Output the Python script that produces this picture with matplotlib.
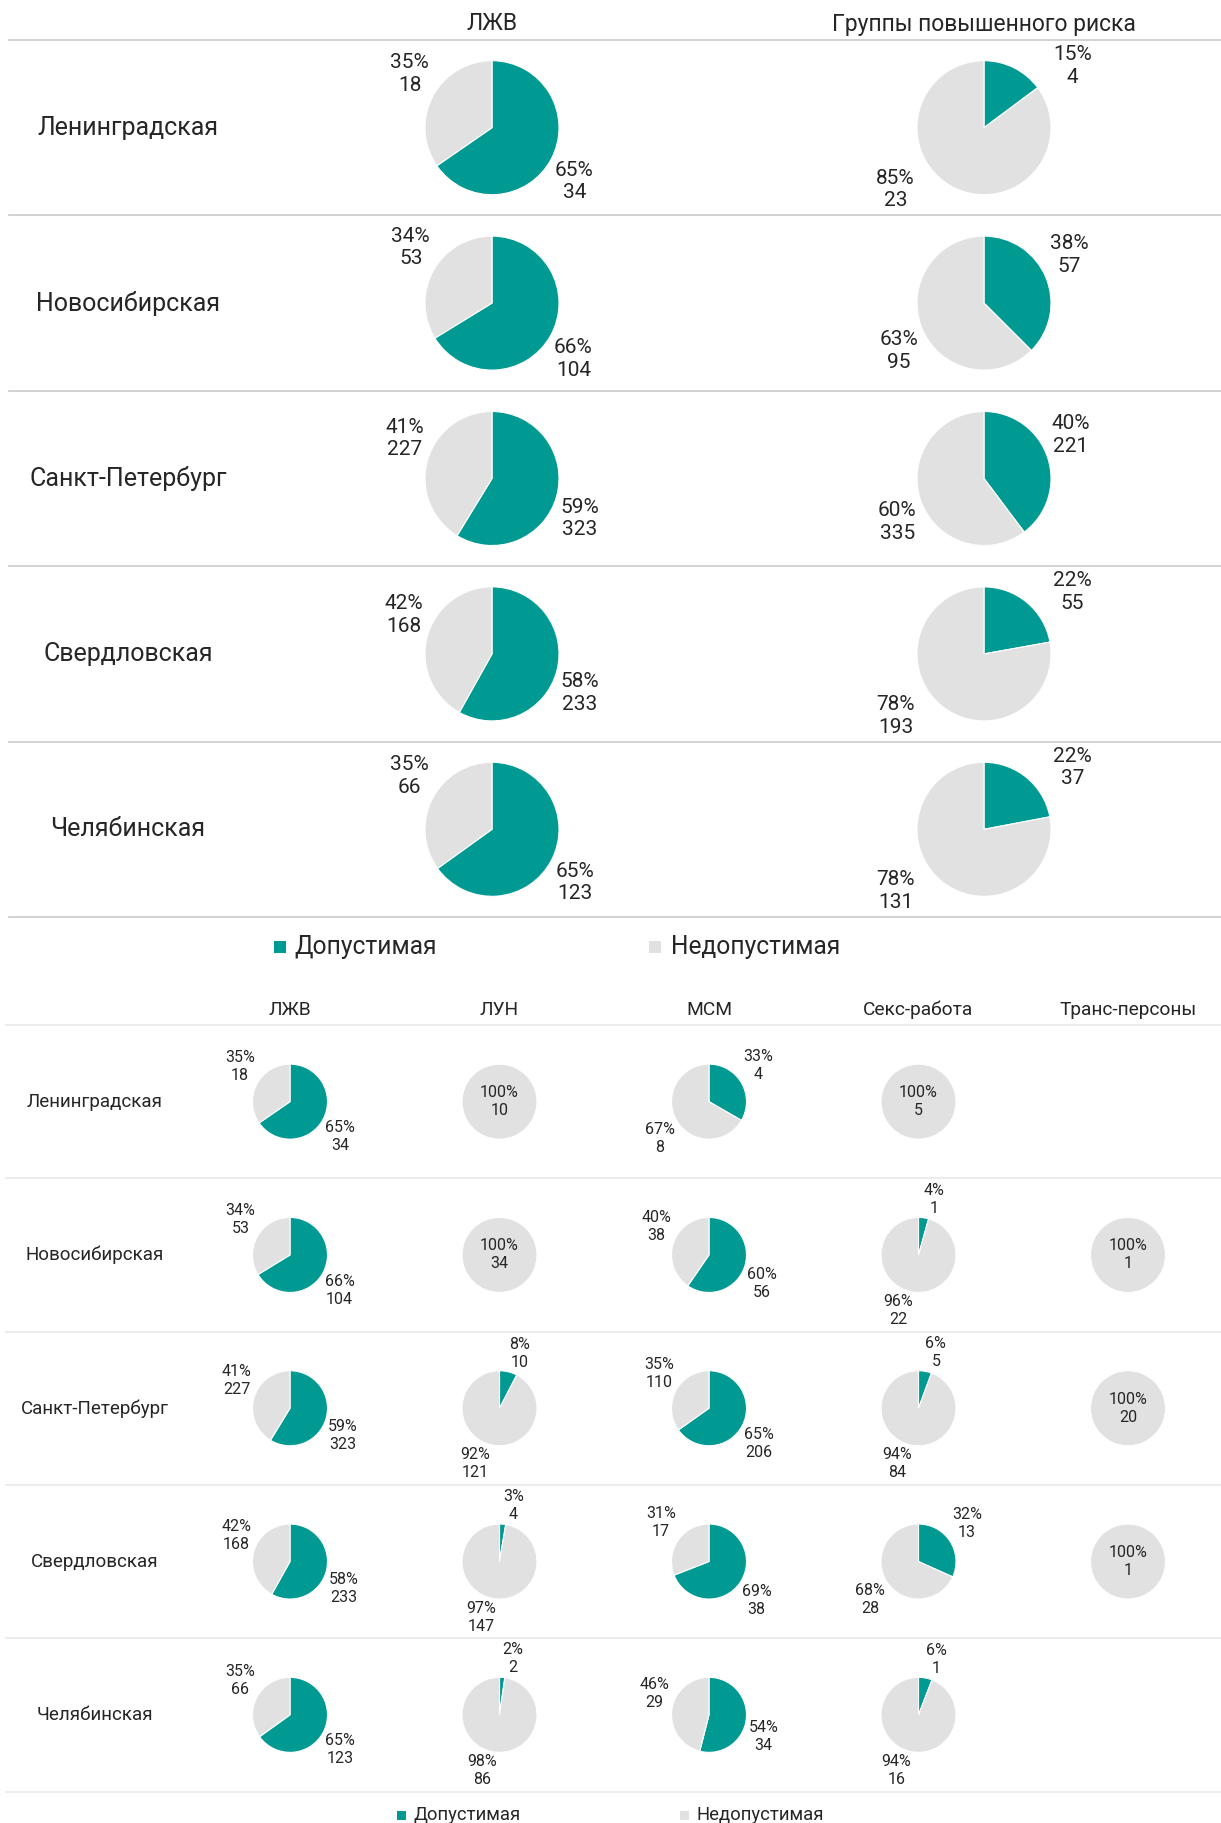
import math
import matplotlib
matplotlib.use('Agg')
import matplotlib.pyplot as plt
from matplotlib.patches import Rectangle

plt.rcParams['font.family'] = ['Roboto', 'DejaVu Sans']

W, H = 1221, 1823
TEAL = '#009A93'
GREY = '#E1E1E1'
INK = '#262626'

regions = ['Ленинградская', 'Новосибирская', 'Санкт-Петербург', 'Свердловская', 'Челябинская']
legend_labels = ['Допустимая', 'Недопустимая']

top_cols = ['ЛЖВ', 'Группы повышенного риска']
bottom_cols = ['ЛЖВ', 'ЛУН', 'МСМ', 'Секс-работа', 'Транс-персоны']

# допустимая / недопустимая, by region
ok_plhiv = [34, 104, 323, 233, 123]
bad_plhiv = [18, 53, 227, 168, 66]
ok_risk = [4, 57, 221, 55, 37]
bad_risk = [23, 95, 335, 193, 131]
ok_pwid = [0, 0, 10, 4, 2]
bad_pwid = [10, 34, 121, 147, 86]
ok_msm = [4, 56, 206, 38, 34]
bad_msm = [8, 38, 110, 17, 29]
ok_sw = [0, 1, 5, 13, 1]
bad_sw = [5, 22, 84, 28, 16]
ok_trans = [None, 0, 0, 0, None]
bad_trans = [None, 1, 20, 1, None]

top_data = [(ok_plhiv, bad_plhiv), (ok_risk, bad_risk)]
bottom_data = [(ok_plhiv, bad_plhiv), (ok_pwid, bad_pwid), (ok_msm, bad_msm),
               (ok_sw, bad_sw), (ok_trans, bad_trans)]

fig = plt.figure(figsize=(W / 100, H / 100), dpi=100)
renderer = fig.canvas.get_renderer()


def fx(x):
    return x / W


def fy(y):
    return 1 - y / H


def ptext(x, y, s, **kw):
    kw.setdefault('color', INK)
    kw.setdefault('ha', 'center')
    kw.setdefault('va', 'center')
    return fig.text(fx(x), fy(y), s, **kw)


def hline(y, x0, x1, color, lw):
    fig.add_artist(plt.Line2D([fx(x0), fx(x1)], [fy(y), fy(y)], color=color, lw=lw))


def pct(v, total):
    # excel-style rounding (half up)
    return int(math.floor(100 * v / total + 0.5))


def draw_pie(cx, cy, r, ok, bad, fs, half_row, margin, slide):
    ax = fig.add_axes([fx(cx - r), fy(cy + r), 2 * r / W, 2 * r / H])
    vals, cols = [], []
    for v, c in ((ok, TEAL), (bad, GREY)):
        if v > 0:
            vals.append(v)
            cols.append(c)
    ax.pie(vals, colors=cols, startangle=90, counterclock=False, radius=1,
           wedgeprops=dict(edgecolor='white', linewidth=0.8))
    ax.set_xlim(-1, 1)
    ax.set_ylim(-1, 1)
    ax.axis('off')
    total = ok + bad
    if len(vals) == 1:
        ptext(cx, cy, f"100%\n{total}", fontsize=fs, linespacing=1.25)
        return
    p = ok / total
    mids = [90 - 180 * p, -90 - 180 * p]
    for v, m in zip((ok, bad), mids):
        t = ptext(cx, cy, f"{pct(v, total)}%\n{v}", fontsize=fs, linespacing=1.25)
        bb = t.get_window_extent(renderer)
        hw, hh = bb.width / 2, bb.height / 2
        c, s = math.cos(math.radians(m)), math.sin(math.radians(m))
        rr = r * 1.06
        dx = rr * c + math.copysign(hw, c)
        dy = rr * s + math.copysign(hh, s)
        lim = half_row - hh - margin
        if abs(dy) > lim:
            dy = math.copysign(lim, dy)
            e = abs(dy) - hh
            r2 = r * slide
            if e < r2:
                need = hw + math.sqrt(r2 ** 2 - e ** 2)
                if abs(dx) < need:
                    dx = math.copysign(need, c)
        t.set_position((fx(cx + dx), fy(cy - dy)))


def legend(y, items, fs, sq):
    for (xm, xt), lab, col in zip(items, legend_labels, (TEAL, GREY)):
        fig.add_artist(Rectangle((fx(xm - sq / 2), fy(y + sq / 2)), sq / W, sq / H,
                                 transform=fig.transFigure, color=col, lw=0))
        ptext(xt, y, lab, fontsize=fs, ha='left')


# ---- top block
top_lines = [40 + 175.4 * i for i in range(6)]
top_x = [492, 984]
r_big = 67
for x, name in zip(top_x, top_cols):
    ptext(x, 24, name, fontsize=16.5)
for y in top_lines:
    hline(y, 9, 1221, '#CFCFCF', 1.3)
for i, reg in enumerate(regions):
    cy = (top_lines[i] + top_lines[i + 1]) / 2
    ptext(128, cy, reg, fontsize=18)
    for x, (ok, bad) in zip(top_x, top_data):
        draw_pie(x, cy, r_big, ok[i], bad[i], 15, 175.4 / 2, 5, 1.2)

legend(947, [(280, 294), (655, 671)], 17.7, 12)

# ---- bottom block
bot_lines = [1025 + 153.3 * i for i in range(6)]
bot_x = [290 + 209.5 * j for j in range(5)]
r_small = 37.5
for x, name in zip(bot_x, bottom_cols):
    ptext(x, 1010, name, fontsize=13.8)
for y in bot_lines:
    hline(y, 6, 1221, '#EDEDED', 1.5)
for i, reg in enumerate(regions):
    cy = (bot_lines[i] + bot_lines[i + 1]) / 2
    ptext(95, cy, reg, fontsize=13.5)
    for x, (ok, bad) in zip(bot_x, bottom_data):
        if ok[i] is None:
            continue
        draw_pie(x, cy, r_small, ok[i], bad[i], 11.5, 153.3 / 2, 1.5, 1.1)

legend(1815, [(401, 414), (684, 696)], 13.3, 9)

fig.savefig('out.png', dpi=100)
